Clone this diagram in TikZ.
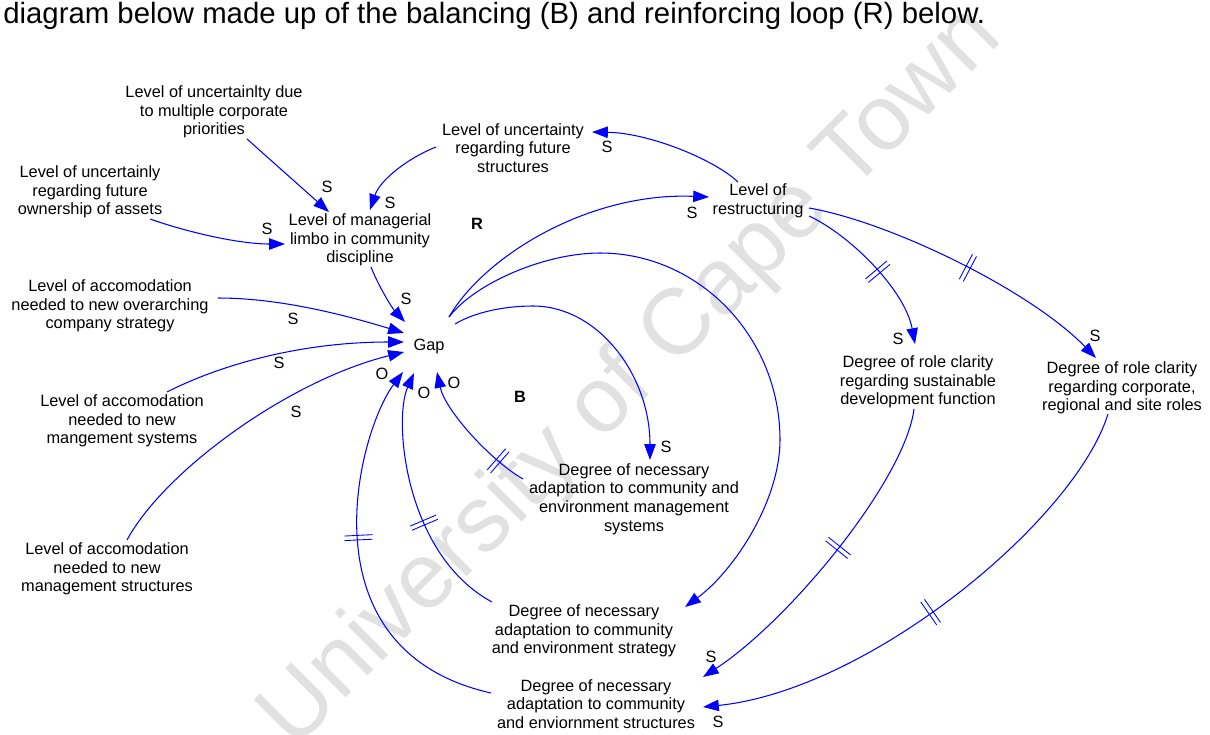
\documentclass[tikz,border=0pt]{standalone}
\usepackage{fontspec}
\setmainfont{Liberation Sans}
\usetikzlibrary{arrows.meta,decorations.markings}
\definecolor{linkblue}{RGB}{0,0,255}
\definecolor{markgray}{RGB}{225,225,225}

\begin{document}
\begin{tikzpicture}[x=0.02cm,y=-0.02cm,
  var/.style={align=center,font=\fontsize{9.3}{10.55}\selectfont,inner sep=0pt},
  pol/.style={font=\fontsize{9.3}{10.55}\selectfont,inner sep=0pt},
  loopname/.style={font=\fontsize{9.3}{10.55}\selectfont\bfseries,inner sep=0pt},
  link/.style={draw=linkblue,line width=0.6pt,-{Triangle[length=9pt,width=6.5pt]}},
  hashmark/.style={postaction={decorate,decoration={markings,
      mark=at position #1 with {\draw[linkblue,line width=0.5pt,-]
        (-1.3pt,-8pt)--(-1.3pt,8pt) (1.3pt,-8pt)--(1.3pt,8pt);}}}},
]
\useasboundingbox (0,0) rectangle (1210,734);

% background watermark and heading line
\node[rotate=45,font=\fontsize{53}{60}\selectfont,text=markgray,inner sep=0pt] (wm) at (632,378) {University of Cape Town};
\node[anchor=base west,font=\fontsize{16.7}{20}\selectfont,inner sep=0pt] (title) at (3,23)
  {diagram below made up of the balancing (B) and reinforcing loop (R) below.};

% variables
\node[var] (unc1) at (214,112) {Level of uncertainlty due\\to multiple corporate\\priorities};
\node[var] (unc2) at (90,192) {Level of uncertainly\\regarding future\\ownership of assets};
\node[var] (limbo) at (360,240) {Level of managerial\\limbo in community\\discipline};
\node[var] (futstr) at (513,148) {Level of uncertainty\\regarding future\\structures};
\node[var] (restr) at (758,201) {Level of\\restructuring};
\node[var] (acc1) at (110,306) {Level of accomodation\\needed to new overarching\\company strategy};
\node[var] (gap) at (429,346) {Gap};
\node[var] (acc2) at (122,421) {Level of accomodation\\needed to new\\mangement systems};
\node[var] (acc3) at (107,569) {Level of accomodation\\needed to new\\management structures};
\node[var] (dsys) at (634,499) {Degree of necessary\\adaptation to community and\\environment management\\systems};
\node[var] (dstrat) at (584,631) {Degree of necessary\\adaptation to community\\and environment strategy};
\node[var] (dstruct) at (596,704) {Degree of necessary\\adaptation to community\\and enviornment structures};
\node[var] (rolesd) at (918,382) {Degree of role clarity\\regarding sustainable\\development function};
\node[var] (rolecorp) at (1122,388) {Degree of role clarity\\regarding corporate,\\regional and site roles};

% loop identifiers
\node[loopname] (loopR) at (477,224) {R};
\node[loopname] (loopB) at (520,397) {B};

% causal links
\draw[link] ([shift={(33,27)}]unc1.center) -- ([shift={(-31,-28)}]limbo.center);
\draw[link] ([shift={(60,27)}]unc2.center) .. controls (190,233) and (240,244) .. ([shift={(-75,4)}]limbo.center);
\draw[link] ([shift={(-77,-1)}]futstr.center) .. controls (408,158) and (380,180) .. ([shift={(10,-30)}]limbo.center);
\draw[link] ([shift={(11,27)}]limbo.center) .. controls (378,285) and (392,308) .. ([shift={(-24,-24)}]gap.center);
\draw[link] ([shift={(108,-8)}]acc1.center) .. controls (280,298) and (345,315) .. ([shift={(-25,-13)}]gap.center);
\draw[link] ([shift={(45,-29)}]acc2.center) .. controls (220,365) and (300,342) .. ([shift={(-25,-4)}]gap.center);
\draw[link] ([shift={(20,-29)}]acc3.center) .. controls (165,470) and (290,380) .. ([shift={(-25,6)}]gap.center);
\draw[link] ([shift={(20,-29)}]gap.center) .. controls (485,255) and (590,192) .. ([shift={(-49,-4)}]restr.center);
\draw[link] ([shift={(20,-29)}]gap.center) .. controls (475,283) and (545,253) .. (600,253)
  .. controls (699,253) and (780,337) .. (780,440)
  .. controls (780,500) and (735,570) .. ([shift={(101,-24)}]dstrat.center);
\draw[link] ([shift={(26,-22)}]gap.center) .. controls (475,312) and (505,306) .. (533,306)
  .. controls (598,306) and (650,375) .. ([shift={(16,-39)}]dsys.center);
\draw[link] ([shift={(-20,-19)}]restr.center) .. controls (715,160) and (650,133) .. ([shift={(79,-16)}]futstr.center);
\draw[link,hashmark=0.52] ([shift={(51,15)}]restr.center) .. controls (850,235) and (905,290) .. ([shift={(-3,-38)}]rolesd.center);
\draw[link,hashmark=0.52] ([shift={(51,7)}]restr.center) .. controls (890,222) and (1030,290) .. ([shift={(-26,-30)}]rolecorp.center);
\draw[link,hashmark=0.46] ([shift={(-4,27)}]rolesd.center) .. controls (905,480) and (790,620) .. ([shift={(107,-27)}]dstruct.center);
\draw[link,hashmark=0.52] ([shift={(-14,26)}]rolecorp.center) .. controls (1075,520) and (870,690) .. ([shift={(107,3)}]dstruct.center);
\draw[link,hashmark=0.22] ([shift={(-111,-20)}]dsys.center) .. controls (490,460) and (445,410) .. ([shift={(8,26)}]gap.center);
\draw[link,hashmark=0.41] ([shift={(-92,-29)}]dstrat.center) .. controls (405,555) and (393,420) .. ([shift={(-15,27)}]gap.center);
\draw[link,hashmark=0.56] ([shift={(-105,-11)}]dstruct.center) .. controls (300,650) and (358,432) .. ([shift={(-26,26)}]gap.center);

% link polarities
\node[pol] (pA) at (327,187) {S};
\node[pol] (pB) at (267,229) {S};
\node[pol] (pC) at (390,203) {S};
\node[pol] (pD) at (406,299) {S};
\node[pol] (pE) at (293,319) {S};
\node[pol] (pF) at (279,363) {S};
\node[pol] (pG) at (296,412) {S};
\node[pol] (pH) at (692,213) {S};
\node[pol] (pJ) at (666,447) {S};
\node[pol] (pK) at (607,147) {S};
\node[pol] (pL) at (898,339) {S};
\node[pol] (pM) at (1095,336) {S};
\node[pol] (pN) at (711,657) {S};
\node[pol] (pO) at (718,722) {S};
\node[pol] (pP) at (454,383) {O};
\node[pol] (pQ) at (424,393) {O};
\node[pol] (pR) at (382,374) {O};
\end{tikzpicture}
\end{document}
